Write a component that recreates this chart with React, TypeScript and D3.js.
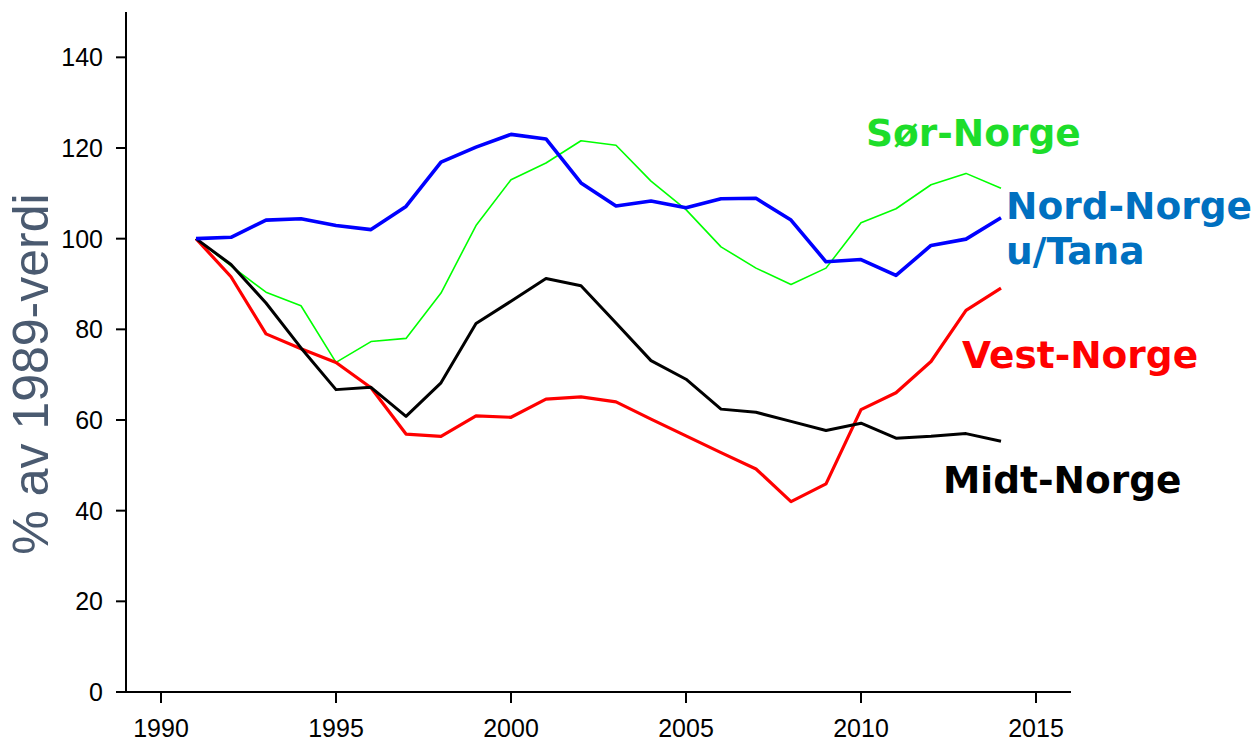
import React from 'react'
import * as d3 from 'd3'

// år og indeksverdier (1989 = 100)
const years = d3.range(1991, 2015)
const nordNorge = [100, 100.3, 104.1, 104.4, 102.9, 102, 107.1, 116.9, 120.2, 123.0, 122.0, 112.3, 107.2, 108.3, 106.8, 108.8, 108.9, 104.1, 94.9, 95.4, 91.9, 98.5, 99.9, 104.6]
const sorNorge = [100, 94.0, 88.2, 85.2, 72.7, 77.3, 78.0, 88.0, 102.9, 113.0, 116.7, 121.6, 120.6, 112.7, 106.4, 98.2, 93.5, 89.9, 93.5, 103.5, 106.6, 111.9, 114.4, 111.1]
const midtNorge = [100, 94.3, 85.8, 75.9, 66.7, 67.2, 60.8, 68.2, 81.3, 86.2, 91.2, 89.6, 81.4, 73.1, 69.0, 62.4, 61.7, 59.7, 57.7, 59.3, 56.0, 56.4, 57.0, 55.3]
const vestNorge = [100, 91.6, 79.0, 75.7, 72.7, 67.1, 56.9, 56.4, 60.9, 60.6, 64.6, 65.1, 64.0, 60.2, 56.5, 52.8, 49.2, 42.0, 45.9, 62.3, 66.0, 72.9, 84.2, 89.1]

const yTicks = [0, 20, 40, 60, 80, 100, 120, 140]
const xTicks = [1990, 1995, 2000, 2005, 2010, 2015]

const series = [
	{ name: 'Sør-Norge', values: sorNorge, color: '#00ff00', width: 1.6 },
	{ name: 'Vest-Norge', values: vestNorge, color: '#ff0000', width: 3.2 },
	{ name: 'Midt-Norge', values: midtNorge, color: '#000000', width: 3 },
	{ name: 'Nord-Norge', values: nordNorge, color: '#0000ff', width: 3.6 },
]

const labels = [
	{ lines: ['Sør-Norge'], x: 866, y: 146, color: '#1ddd2a' },
	{ lines: ['Nord-Norge', 'u/Tana'], x: 1006, y: 219, color: '#0070c0' },
	{ lines: ['Vest-Norge'], x: 962, y: 368, color: '#ff0000' },
	{ lines: ['Midt-Norge'], x: 943, y: 493, color: '#000000' },
]

export default function App() {
	const width = 1255
	const height = 743

	const x = d3.scaleLinear().domain([1989, 2016]).range([126, 1071])
	const y = d3.scaleLinear().domain([0, 150]).range([692, 12])

	const line = d3.line<number>()
		.x((_, i) => x(years[i]))
		.y(d => y(d))

	const tickFont = '"Liberation Sans", Arial, sans-serif'

	return (
		<svg width={width} height={height} style={{ position: 'absolute', left: 0, top: 0, background: '#fff' }}>
			{/* y-akse */}
			<line x1={126} x2={126} y1={y(150)} y2={y(0)} stroke="#000" strokeWidth={2} />
			{yTicks.map(t => (
				<g key={t}>
					<line x1={116} x2={126} y1={y(t)} y2={y(t)} stroke="#000" strokeWidth={2} />
					<text x={103} y={y(t)} dy="0.36em" textAnchor="end" fontSize={25} fontFamily={tickFont} fill="#000">{t}</text>
				</g>
			))}
			{/* x-akse */}
			<line x1={116} x2={x(2016)} y1={y(0)} y2={y(0)} stroke="#000" strokeWidth={2} />
			{xTicks.map(t => (
				<g key={t}>
					<line x1={x(t)} x2={x(t)} y1={y(0)} y2={y(0) + 11} stroke="#000" strokeWidth={2} />
					<text x={x(t)} y={737} textAnchor="middle" fontSize={25} fontFamily={tickFont} fill="#000">{t}</text>
				</g>
			))}
			<text transform="translate(48, 374) rotate(-90)" textAnchor="middle" fontSize={50} fontFamily={tickFont} fill="#4a5a70">% av 1989-verdi</text>

			{series.map(s => (
				<path key={s.name} d={line(s.values) || ''} fill="none" stroke={s.color} strokeWidth={s.width} strokeLinejoin="round" />
			))}

			{labels.map(l => (
				<text key={l.lines[0]} x={l.x} y={l.y} fontSize={37.5} fontWeight="bold" fontFamily='"DejaVu Sans", Verdana, sans-serif' fill={l.color}>
					{l.lines.map((t, i) => (
						<tspan key={t} x={l.x} dy={i === 0 ? 0 : 45}>{t}</tspan>
					))}
				</text>
			))}
		</svg>
	)
}
